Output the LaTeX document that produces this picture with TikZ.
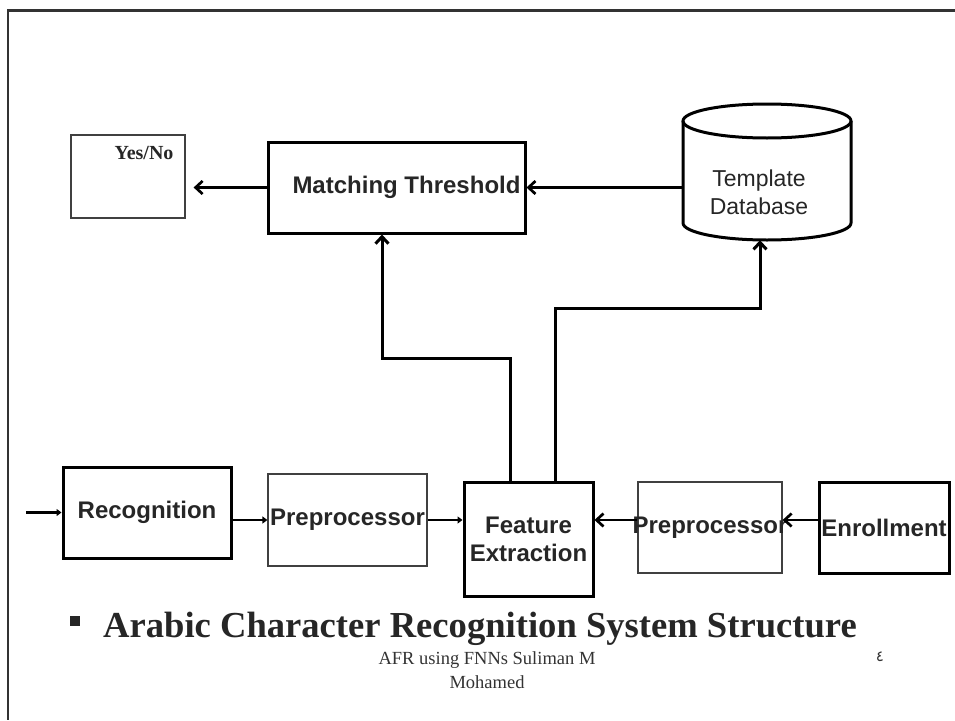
\documentclass[tikz,border=0pt]{standalone}
\usepackage{fontspec}
\setmainfont{Liberation Serif}
\newfontfamily\arial{Liberation Sans}
\newfontfamily\arabicfont[Script=Arabic]{DejaVu Sans}
\TeXXeTstate=1
\usetikzlibrary{arrows.meta}
\begin{document}
\begin{tikzpicture}[x=1pt,y=-1pt,
  thick box/.style={draw=black, line width=3pt, inner sep=1pt},
  thin box/.style={draw=black!75, line width=1.2pt, inner sep=1pt},
  lbl/.style={font=\arial\bfseries\fontsize{24}{28}\selectfont, text=black!85},
  chev/.style={draw=black, line width=2.7pt, -{Straight Barb[length=7pt,width=13pt]}},
  tri/.style={draw=black, line width=2.3pt, -{Triangle[length=5pt,width=7pt]}},
]
\useasboundingbox (0,0) rectangle (955,720);
% frame
\draw[black!80, line width=2.5pt] (955,10.5) -- (8,10.5) -- (8,720);

% top row
\node[thin box, minimum width=114pt, minimum height=83pt] (yn) at (128,176.5) {};
\node[font=\bfseries\fontsize{20}{24}\selectfont, text=black!85] (yntxt) at (144,153) {Yes/No};
\node[thick box, lbl, minimum width=257pt, minimum height=91pt] (mt) at (396.5,187.5) {\hspace*{20pt}Matching Threshold};

% cylinder
\node[minimum width=168pt, minimum height=136pt, inner sep=0] (db) at (767,172) {};
\draw[line width=3pt, fill=white] (683,121) -- (683,223) arc[start angle=180, end angle=360, x radius=84pt, y radius=17pt] -- (851,121);
\draw[line width=3pt] (767,121) ellipse[x radius=84pt, y radius=17pt];
\node[font=\arial\fontsize{23}{28}\selectfont, text=black!85, align=center] (dbtxt) at (759,192) {Template\\Database};

% bottom row
\coordinate (in) at (26,512.5);
\node[thick box, lbl, minimum width=168pt, minimum height=91pt] (rec) at (147,512.5) {Recognition};
\node[thin box, lbl, minimum width=159pt, minimum height=92pt] (p1) at (347.5,520) {Preprocessor};
\node[thick box, lbl, align=center, minimum width=129pt, minimum height=114pt] (fe) at (528.5,539) {Feature\\Extraction};
\node[thin box, lbl, minimum width=144pt, minimum height=91pt] (p2) at (710,527.5) {\makebox[0pt]{Preprocessor}};
\node[thick box, lbl, minimum width=130pt, minimum height=91pt] (en) at (884,527.5) {Enrollment};

% connectors
\draw[tri] (in) -- (rec.west);
\draw[tri] (rec.east |- p1.west) -- (p1.west);
\draw[tri] (p1.east) -- (p1.east -| fe.west);
\coordinate (r2) at (600,520);
\draw[chev] (p2.west |- r2) -- (fe.east |- r2);
\draw[chev] (en.west |- r2) -- (p2.east |- r2);
\draw[chev, shorten >=8pt] (mt.west) -- (yn.east |- mt.west);
\draw[chev] (db.west |- mt.east) -- (mt.east);
\coordinate (k1) at (382,358);
\coordinate (k2) at (760,308);
\draw[chev, line width=3pt] ([xshift=-18.5pt]fe.north) |- (k1) -- (k1 |- mt.south);
\draw[chev, line width=3pt] ([xshift=26.5pt]fe.north) |- (k2) -- (k2 |- db.south);

% title
\node[fill=black!85, minimum size=10pt, inner sep=0] (bul) at (74.5,621) {};
\node[anchor=base west, font=\bfseries\fontsize{36.6}{40}\selectfont, text=black!85, inner sep=0] (title) at (103,637) {Arabic Character Recognition System Structure};

% footer
\node[font=\fontsize{18.5}{24}\selectfont, align=center, text=black!80] (foot) at (487,670) {AFR using FNNs Suliman M\\Mohamed};
\node[font=\arabicfont\fontsize{15}{20}\selectfont, text=black!80] (pg) at (880,657) {\beginR ٤\endR};
\end{tikzpicture}
\end{document}
